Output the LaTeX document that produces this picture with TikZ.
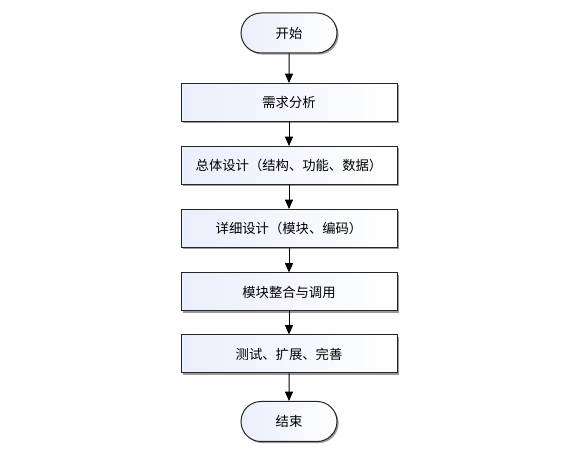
\documentclass[tikz,border=0pt]{standalone}
\usepackage{fontspec}
\newfontfamily\cjk{Noto Sans CJK SC}
\usepackage{tikz}
\usetikzlibrary{arrows.meta,shadows,shapes.misc}

\definecolor{boxblue}{RGB}{234,239,252}
\tikzset{
  base/.style={draw=black!85, line width=0.75pt, left color=boxblue, right color=white,
    drop shadow={shadow xshift=1.2pt, shadow yshift=-1.2pt, fill=black!40, opacity=1},
    font=\cjk\fontsize{10}{12}\selectfont, inner sep=0pt},
  terminal/.style={base, rounded rectangle, minimum width=72pt, minimum height=30pt},
  stepbox/.style={base, rectangle, minimum width=162pt, minimum height=28.5pt},
  flow/.style={line width=0.75pt, draw=black, -{Triangle[width=6pt,length=7pt]}}
}

\begin{document}
\begin{tikzpicture}[x=0.75pt, y=-0.75pt]
\useasboundingbox (0,0) rectangle (583,449);

\node [terminal] (start) at (289,33) {开始};
\node [stepbox] (req) at (289,102.5) {需求分析};
\node [stepbox] (overall) at (289,165.5) {总体设计（结构、功能、数据）};
\node [stepbox] (detail) at (289,228.5) {详细设计（模块、编码）};
\node [stepbox] (merge) at (289,292) {模块整合与调用};
\node [stepbox] (test) at (289,354) {测试、扩展、完善};
\node [terminal] (end) at (289,421.5) {结束};

\draw [flow] (start) -- (req);
\draw [flow] (req) -- (overall);
\draw [flow] (overall) -- (detail);
\draw [flow] (detail) -- (merge);
\draw [flow] (merge) -- (test);
\draw [flow] (test) -- (end);
\end{tikzpicture}
\end{document}
